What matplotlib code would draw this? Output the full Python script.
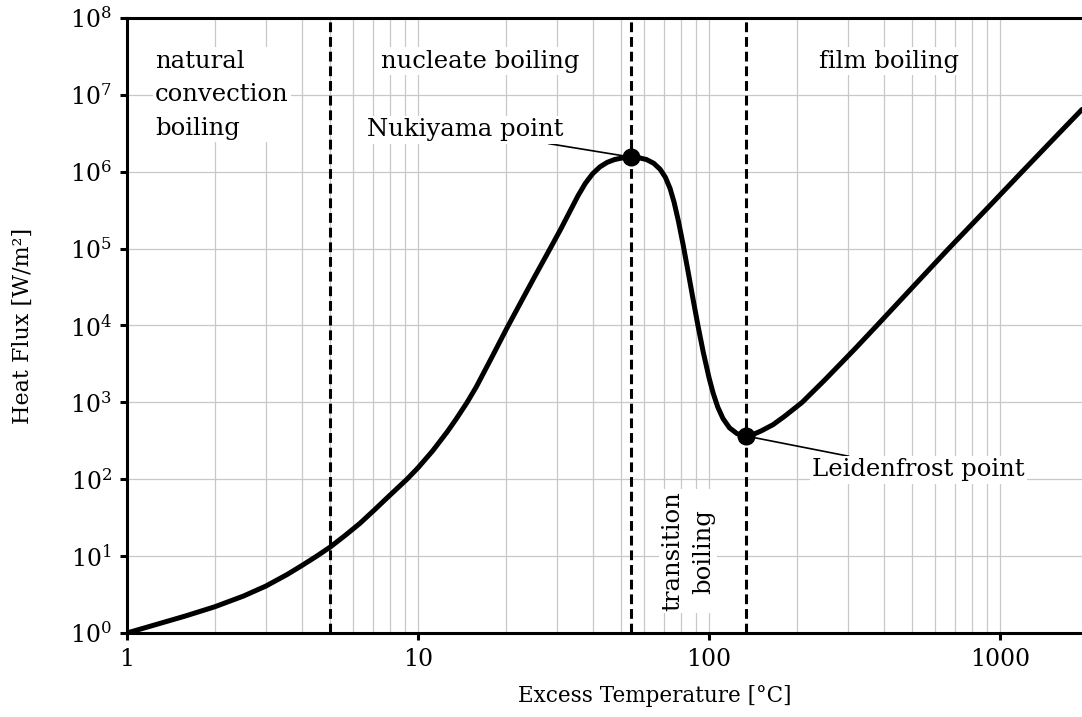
import numpy as np
import matplotlib
matplotlib.use("Agg")
import matplotlib.pyplot as plt
from matplotlib.ticker import LogLocator, FuncFormatter, NullFormatter

plt.rcParams['font.family'] = ['DejaVu Serif']
plt.rcParams['mathtext.fontset'] = 'dejavuserif'

# boiling curve: excess temperature [°C] vs heat flux [W/m²]
excess_temp = [1, 1.259, 1.585, 2, 2.512, 3, 3.548, 4, 4.467, 5,
               5.623, 6.31, 7.079, 7.943, 9.162, 10, 11.22, 12.59, 13.49, 14.72,
               15.85, 17.78, 20.23, 22.39, 25.12, 28.44, 30.9, 33.11, 35.48, 37.58,
               39.81, 42.17, 44.67, 47.32, 50.12, 54, 57.54, 60.95, 64.57, 67.92,
               70.79, 73.45, 75.86, 78.52, 81.47, 85.11, 88.1, 91.62, 95.5, 100,
               103.3, 107.2, 111.7, 117.5, 124.7, 129.4, 134, 141.3, 151.4, 166,
               182, 208.9, 251.2, 316.2, 377.6, 501.2, 662.2, 891.3, 1191, 1585,
               1913]
heat_flux = [1, 1.288, 1.66, 2.188, 3.02, 4.074, 5.754, 7.586, 9.886, 13.18,
             18.62, 26.61, 39.81, 60.26, 100, 140.9, 233.3, 412.1, 598.4, 988.6,
             1585, 3631, 9333, 1.905e4, 4.266e4, 1e5, 1.778e5, 2.951e5, 4.887e5, 7.063e5,
             9.419e5, 1.156e6, 1.324e6, 1.439e6, 1.507e6, 1.55e6, 1.517e6, 1.442e6, 1.288e6, 1.076e6,
             8.472e5, 6.081e5, 4.0e5, 2.265e5, 1.125e5, 4.581e4, 2.218e4, 9954, 4529, 2094,
             1321, 865, 615.2, 467.7, 392.6, 372.4, 365, 380.2, 426.6, 512.9,
             660.7, 1000, 1995, 4898, 1e4, 3.162e4, 9.77e4, 3.162e5, 1e6, 3.09e6,
             6.46e6]

# critical points and regime boundaries
nukiyama = (54, 1.55e6)
leidenfrost = (134, 365)
boundaries = [5, 54, 134]

regime_labels = ["natural\nconvection\nboiling", "nucleate boiling",
                 "transition\nboiling", "film boiling"]
regime_pos = [(1.25, 1e7), (16.3, 2.75e7), (84.7, 11.6), (416, 2.75e7)]

fs = 17.5
box = dict(facecolor='white', edgecolor='none', pad=1.5)

fig = plt.figure(figsize=(10.82, 7.17), dpi=100)
ax = fig.add_axes([0.1174, 0.1172, 0.8826, 0.8577])

ax.set_xscale('log')
ax.set_yscale('log')
ax.set_xlim(1, 1913)
ax.set_ylim(1, 1e8)

ax.xaxis.set_major_locator(LogLocator(base=10, numticks=10))
ax.xaxis.set_minor_locator(LogLocator(base=10, subs=np.arange(2, 10), numticks=20))
ax.xaxis.set_major_formatter(FuncFormatter(lambda v, p: f'{v:g}'))
ax.xaxis.set_minor_formatter(NullFormatter())
ax.yaxis.set_major_locator(LogLocator(base=10, numticks=20))
ax.yaxis.set_minor_locator(LogLocator(base=10, subs=[], numticks=20))
ax.xaxis.get_offset_text().set_visible(False)
ax.yaxis.get_offset_text().set_visible(False)

ax.set_axisbelow(True)
ax.grid(True, which='both', axis='x', color='#c8c8c8', lw=0.9)
ax.grid(True, which='major', axis='y', color='#c8c8c8', lw=0.9)

for side in ['left', 'bottom', 'top']:
    ax.spines[side].set_linewidth(2.2)
ax.spines['right'].set_visible(False)
ax.tick_params(which='major', direction='out', length=5, width=2.2,
               labelsize=17, pad=6, top=False, right=False)
ax.tick_params(which='minor', length=0)

for b in boundaries:
    ax.axvline(b, color='black', lw=2.2, ls=(0, (3.2, 1.6)), zorder=2)

ax.plot(excess_temp, heat_flux, color='black', lw=3.6, zorder=3,
        solid_capstyle='round', solid_joinstyle='round')
ax.plot(*nukiyama, 'o', color='black', ms=12, zorder=4)
ax.plot(*leidenfrost, 'o', color='black', ms=12, zorder=4)

ax.text(*regime_pos[0], regime_labels[0], fontsize=fs, ha='left', va='center',
        linespacing=1.6, bbox=box, zorder=5)
ax.text(*regime_pos[1], regime_labels[1], fontsize=fs, ha='center', va='center',
        bbox=box, zorder=5)
ax.text(*regime_pos[2], regime_labels[2], fontsize=fs, ha='center', va='center',
        rotation=90, linespacing=1.45, bbox=box, zorder=5)
ax.text(*regime_pos[3], regime_labels[3], fontsize=fs, ha='center', va='center',
        bbox=box, zorder=5)

ax.annotate("Nukiyama point", xy=nukiyama, xytext=(31.5, 3.5e6),
            fontsize=fs, ha='right', va='center', bbox=box, zorder=5,
            arrowprops=dict(arrowstyle='-', color='black', lw=1.2,
                            shrinkA=0, shrinkB=0))
ax.annotate("Leidenfrost point", xy=leidenfrost, xytext=(226, 132),
            fontsize=fs, ha='left', va='center', bbox=box, zorder=5,
            arrowprops=dict(arrowstyle='-', color='black', lw=1.2,
                            shrinkA=0, shrinkB=0))

ax.set_xlabel("Excess Temperature [°C]", fontsize=15.5)
ax.xaxis.set_label_coords(0.553, -0.084)
ax.set_ylabel("Heat Flux [W/m²]", fontsize=16)
ax.yaxis.set_label_coords(-0.098, 0.5)

fig.savefig("out.png", dpi=100)
